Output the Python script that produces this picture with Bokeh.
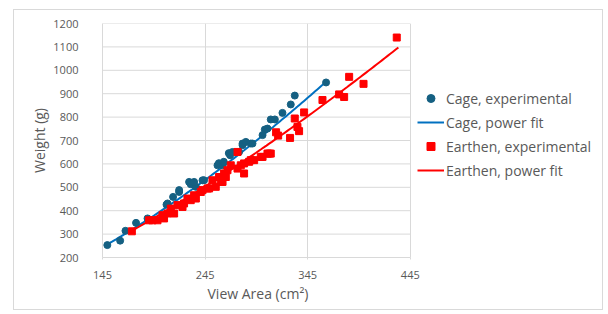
import numpy as np
from bokeh.plotting import figure
from bokeh.models import Legend, LegendItem, FixedTicker, Title
from bokeh.embed import file_html
from bokeh.resources import INLINE

# ---- data ----
cage_area = [149.7, 162.2, 167.4, 177.7, 188.9, 207.4, 208.4, 213.8, 219.7, 219.7,
             229.4, 231.0, 236.0, 234.3, 244.0, 242.5, 257.1, 258.4, 262.0, 263.2,
             268.1, 269.4, 271.7, 278.1, 281.5, 281.5, 284.7, 289.5, 291.2, 301.0,
             303.2, 305.8, 309.0, 313.0, 320.4, 328.5, 332.4, 362.9]
cage_weight = [253, 272, 314, 348, 367, 426, 431, 459, 480, 488,
               523, 513, 502, 523, 530, 530, 594, 603, 594, 609,
               646, 637, 651, 651, 680, 687, 694, 687, 687, 723,
               747, 751, 790, 790, 818, 854, 892, 948]

earth_area = [173.6, 190.4, 193.7, 198.6, 203.5, 205.0, 208.4, 211.6, 214.8, 218.1,
              223.0, 224.5, 227.8, 231.0, 234.3, 236.0, 242.5, 240.8, 247.3, 248.9,
              252.2, 255.4, 258.6, 260.3, 262.0, 263.5, 265.2, 266.8, 270.0, 276.6,
              276.6, 279.8, 283.0, 283.0, 287.9, 289.5, 292.8, 299.3, 301.0, 307.4,
              309.0, 305.8, 314.2, 316.2, 327.8, 332.4, 335.0, 336.6, 341.5, 359.4,
              375.6, 380.5, 385.4, 399.4, 431.8]
earth_weight = [312, 359, 359, 359, 381, 367, 388, 409, 388, 424,
                416, 431, 452, 445, 466, 452, 488, 480, 495, 495,
                530, 502, 544, 523, 523, 559, 544, 573, 594, 580,
                651, 594, 602, 559, 609, 616, 616, 630, 630, 644,
                644, 644, 735, 721, 711, 794, 758, 740, 820, 873,
                897, 886, 972, 942, 1140]

# power fits W = a * A^b over the plotted range
cage_fit_coef, cage_fit_exp, cage_fit_range = 0.1530, 1.482, [150.0, 363.0]
earth_fit_coef, earth_fit_exp, earth_fit_range = 0.2720, 1.3675, [173.6, 433.4]

x_ticks = [145, 245, 345, 445]
y_ticks = [200, 300, 400, 500, 600, 700, 800, 900, 1000, 1100, 1200]
x_title = "View Area (cm²)"
y_title = "Weight (g)"
legend_labels = ["Cage, experimental", "Cage, power fit",
                 "Earthen, experimental", "Earthen, power fit"]

CAGE_PT = "#156082"
CAGE_LN = "#0070C0"
EARTH = "#FF0000"
GRID = "#d9d9d9"
TXT = "#595959"
FONT = "Open Sans"

# the frame is extended to the right so the legend (drawn inside it) is not clipped
X_VIEW_END = 633.3

p = figure(width=590, height=301, output_backend="svg", toolbar_location=None,
           x_range=(x_ticks[0], X_VIEW_END), y_range=(y_ticks[0], y_ticks[-1]),
           min_border_left=88, min_border_right=1, min_border_top=13,
           min_border_bottom=54)
p.styles = {"border": "1px solid #d9d9d9", "margin-left": "13px", "margin-top": "9px"}
p.outline_line_color = None
p.background_fill_color = "white"
p.border_fill_color = "white"

for ax in (p.xaxis, p.yaxis):
    ax.axis_line_color = GRID
    ax.major_tick_line_color = GRID
    ax.minor_tick_line_color = None
    ax.major_label_text_color = TXT
    ax.major_label_text_font = FONT
    ax.major_label_text_font_size = "11px"
    ax.axis_label_text_color = TXT
    ax.axis_label_text_font = FONT
    ax.axis_label_text_font_size = "14px"
    ax.axis_label_text_font_style = "normal"
    ax.major_tick_in = 0

p.xaxis.ticker = FixedTicker(ticks=x_ticks)
p.yaxis.ticker = FixedTicker(ticks=y_ticks)
p.xaxis.bounds = (x_ticks[0], x_ticks[-1])
p.xaxis.major_tick_out = 2
p.xaxis.major_label_standoff = 11
p.yaxis.major_tick_out = 0
p.yaxis.major_label_standoff = 24
p.yaxis.axis_label = y_title
p.yaxis.axis_label_standoff = 1

# x-axis title placed under the axis extent (not the extended frame)
xt = Title(text=x_title, align="left", offset=105, vertical_align="top", standoff=4,
           text_font=FONT, text_font_size="14px", text_font_style="normal",
           text_color=TXT)
p.add_layout(xt, "below")

p.xgrid.grid_line_color = GRID
p.xgrid.ticker = FixedTicker(ticks=x_ticks)
p.ygrid.visible = False
# horizontal grid lines limited to the axis extent
p.segment(x0=[x_ticks[0]] * len(y_ticks), x1=[x_ticks[-1]] * len(y_ticks),
          y0=y_ticks, y1=y_ticks, line_color=GRID, line_width=1, level="underlay")

cx = np.linspace(cage_fit_range[0], cage_fit_range[1], 100)
ex = np.linspace(earth_fit_range[0], earth_fit_range[1], 100)

r_cage_fit = p.line(cx, cage_fit_coef * cx ** cage_fit_exp, line_color=CAGE_LN, line_width=2)
r_earth_fit = p.line(ex, earth_fit_coef * ex ** earth_fit_exp, line_color=EARTH, line_width=2)
r_cage = p.scatter(cage_area, cage_weight, marker="circle", size=7,
                   fill_color=CAGE_PT, line_color=CAGE_PT)
r_earth = p.scatter(earth_area, earth_weight, marker="square", size=7,
                    fill_color=EARTH, line_color=EARTH)

legend = Legend(items=[
    LegendItem(label=legend_labels[0], renderers=[r_cage]),
    LegendItem(label=legend_labels[1], renderers=[r_cage_fit]),
    LegendItem(label=legend_labels[2], renderers=[r_earth]),
    LegendItem(label=legend_labels[3], renderers=[r_earth_fit]),
], location=(315, 77))
legend.border_line_color = None
legend.background_fill_alpha = 0
legend.padding = 0
legend.margin = 0
legend.spacing = 4
legend.glyph_width = 27
legend.glyph_height = 20
legend.label_height = 20
legend.label_standoff = 2
legend.label_text_font = FONT
legend.label_text_font_size = "14px"
legend.label_text_color = TXT
p.add_layout(legend)

open("out.html", "w").write(file_html(p, INLINE))
